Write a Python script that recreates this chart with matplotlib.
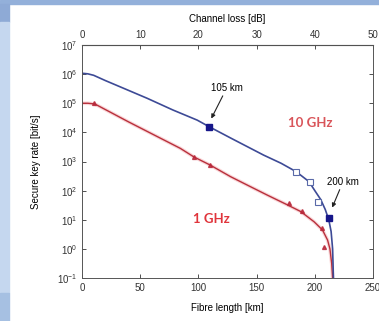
import matplotlib
matplotlib.use("Agg")
import matplotlib.pyplot as plt
import numpy as np
from matplotlib.patches import Rectangle

plt.rcParams['font.family'] = ['Liberation Sans', 'DejaVu Sans']

# 10 GHz curve (fibre length in km, log10 of key rate)
blue_km = [0, 5, 10, 20, 33, 56, 78, 99, 109, 128, 156, 171, 184, 195, 200, 205, 209, 212, 214, 215.3, 216, 216.4]
blue_log = [6.03, 6.01, 5.96, 5.78, 5.56, 5.17, 4.77, 4.42, 4.20, 3.80, 3.22, 2.94, 2.65, 2.31, 2.0, 1.7, 1.35, 1.0, 0.6, 0.0, -1.0, -1.6]
# 1 GHz curve
red_km = [0, 5, 10, 12.7, 40, 84.5, 96, 110, 127.6, 142, 159, 176.5, 188, 199.4, 206.6, 211, 213, 214.5, 215.3, 215.8]
red_log = [5.0, 5.0, 4.98, 4.94, 4.36, 3.45, 3.16, 2.88, 2.48, 2.19, 1.85, 1.51, 1.28, 0.93, 0.65, 0.30, 0.0, -0.5, -1.0, -1.4]

# measured points
red_pts_km = [10, 96, 110, 178, 189, 206.6, 208]
red_pts_log = [5.0, 3.15, 2.88, 1.56, 1.31, 0.71, 0.07]
blue_open_km = [184, 195.5, 202.5]
blue_open_log = [2.65, 2.29, 1.60]
blue_fill_km = [109, 212]
blue_fill_log = [4.20, 1.05]

xticks = [0, 50, 100, 150, 200, 250]
top_ticks = [0, 10, 20, 30, 40, 50]
yticks = [1e-1, 1e0, 1e1, 1e2, 1e3, 1e4, 1e5, 1e6, 1e7]

W, H = 379, 321
fig = plt.figure(figsize=(W / 100, H / 100), dpi=100)
fig.patch.set_facecolor('white')

def px_rect(x0, y0, x1, y1, color):
    fig.patches.append(Rectangle((x0 / W, 1 - y1 / H), (x1 - x0) / W, (y1 - y0) / H,
                                 transform=fig.transFigure, color=color, zorder=-10))

px_rect(0, 0, W, 4, '#93b0da')
px_rect(0, 4, 9, 22, '#8eaad6')
px_rect(0, 22, 9, 293, '#c5d7ef')
px_rect(0, 293, 9, H, '#a6c0e2')

ax = fig.add_axes([82 / W, 1 - 278 / H, (373 - 82) / W, (278 - 45) / H])

bk = np.array(blue_km)
bl = 10 ** np.array(blue_log)
rk = np.array(red_km)
rl = 10 ** np.array(red_log)

ax.plot(rk, rl, color='#f08a90', lw=2.6, alpha=0.35, solid_capstyle='round')
ax.plot(rk, rl, color='#b8303c', lw=1.0)
ax.plot(bk, bl, color='#3d4a96', lw=1.2)

ax.plot(red_pts_km, 10 ** np.array(red_pts_log), ls='none', marker='^', ms=2.8,
        color='#b8283a', mec='#b8283a', alpha=0.85)
ax.plot(blue_open_km, 10 ** np.array(blue_open_log), ls='none', marker='s', ms=4.5,
        mfc='white', mec='#5a6aa8', mew=0.8)
ax.plot(blue_fill_km, 10 ** np.array(blue_fill_log), ls='none', marker='s', ms=5,
        color='#16168a')

arrow = dict(arrowstyle='-|>', lw=0.8, color='#222222', mutation_scale=6, shrinkA=0, shrinkB=2)
ax.annotate('105 km', xy=(110, 10 ** 4.39), xytext=(124.3, 10 ** 5.52),
            ha='center', va='center', fontsize=7, arrowprops=arrow)
ax.annotate('200 km', xy=(214, 10 ** 1.33), xytext=(224.2, 10 ** 2.30),
            ha='center', va='center', fontsize=7, arrowprops=arrow)

ax.text(195.9, 10 ** 4.32, '10 GHz', color='#d9555a', fontsize=9.5, fontweight='bold',
        family=['Lato', 'DejaVu Sans'], ha='center', va='center')
ax.text(111.4, 10 ** 1.03, '1 GHz', color='#e0353c', fontsize=9.5, fontweight='bold',
        family=['Lato', 'DejaVu Sans'], ha='center', va='center')

ax.set_yscale('log')
ax.set_xlim(0, 250)
ax.set_ylim(1e-1, 1e7)
ax.set_xticks(xticks)
ax.set_yticks(yticks)
ax.minorticks_off()
ax.tick_params(direction='in', length=3, width=0.6, labelsize=7, right=True, colors='#333333')
for s in ax.spines.values():
    s.set_linewidth(0.7)
    s.set_color('#555555')

ax.set_xlabel('Fibre length [km]', fontsize=7, labelpad=7)
ax.set_ylabel('Secure key rate [bit/s]', fontsize=7, labelpad=11)

top = ax.secondary_xaxis('top', functions=(lambda x: x * 0.2, lambda x: x / 0.2))
top.set_xticks(top_ticks)
top.tick_params(direction='in', length=3, width=0.6, labelsize=7, colors='#333333')
top.set_xlabel('Channel loss [dB]', fontsize=7, labelpad=6)

fig.savefig('out.png', dpi=100)
